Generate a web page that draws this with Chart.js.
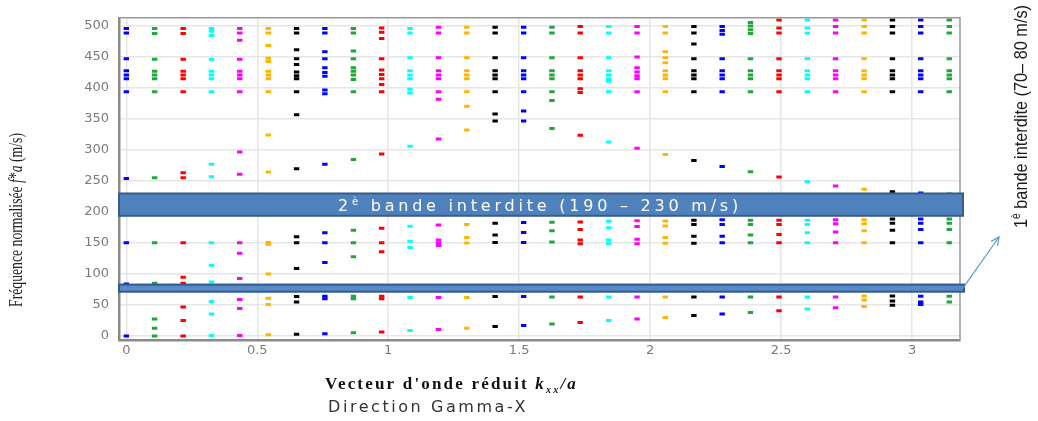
<!DOCTYPE html>
<html><head><meta charset="utf-8">
<script src="https://cdn.jsdelivr.net/npm/chart.js@4.4.1/dist/chart.umd.min.js"></script>
<style>html,body{margin:0;padding:0;background:#fff;overflow:hidden}#wrap{position:relative;width:1038px;height:421px}</style>
</head><body><div id="wrap"><canvas id="c" width="1038" height="421"></canvas></div>
<script>
// Reduced wave vector positions (Gamma -> X)
const kValues = [0, 0.108, 0.217, 0.325, 0.433, 0.542, 0.65, 0.758, 0.867, 0.975, 1.083, 1.192, 1.3, 1.408, 1.517,
  1.625, 1.733, 1.842, 1.95, 2.058, 2.167, 2.275, 2.383, 2.492, 2.6, 2.708, 2.817, 2.925, 3.033, 3.142];
const seriesColors = ['#0000ff', '#1fa83a', '#ff0000', '#00ffff', '#ff00ff', '#ffb400', '#000000'];
// Normalised frequencies for each k column (m/s)
const col00 = [496, 489, 447.5, 428, 421, 415, 394, 254, 150.6, 84, 0];
const col01 = [496, 488, 446.5, 427, 421, 415, 394, 255.5, 150.6, 85, 27.6, 12.7, 0];
const col02 = [496, 488, 446.5, 427, 421, 415, 394, 263.5, 255.5, 150.6, 95, 85, 47, 25, 0];
const col03 = [496, 491.5, 485, 446.5, 427, 421, 415, 394, 277, 257, 150.6, 114, 87, 55.7, 35.5, 1];
const col04 = [496, 489, 477, 446.5, 427, 421, 415, 394, 297, 261, 150.6, 133.6, 92.8, 59, 44.5, 1];
const col05 = [496, 489, 468.7, 448, 443, 427, 421, 415, 394, 324.5, 264.6, 151, 148, 100, 61, 51, 2];
const col06 = [496, 489, 462, 447.5, 438, 426, 420, 415, 394, 357, 270, 160, 150.6, 109, 63.6, 55, 2.7];
const col07 = [496, 489, 458.6, 447.5, 433, 425, 419, 397, 391, 277, 166.5, 150.6, 118.8, 64, 60, 3.7];
const col08 = [496, 489, 460, 447.5, 433, 427, 421, 414, 394, 284.7, 170.7, 150.6, 127.8, 64, 60, 5.3];
const col09 = [497, 490, 480, 447.5, 429, 422, 415, 405.6, 394, 293.7, 174, 150.6, 136, 64, 60, 6.4];
const col10 = [496, 489, 449, 428, 421, 415, 398, 392, 306, 177, 153, 143, 62, 9];
const col11 = [498, 489, 449, 428, 421, 415, 394, 382, 318, 179, 155, 150, 146, 62, 10.6];
const col12 = [498, 489, 449, 428, 421, 415, 394, 370.6, 332.5, 180, 159, 150, 62, 12.7];
const col13 = [498, 489, 449, 428, 421, 415, 394, 358.4, 347, 182, 163, 151, 63.6, 15.4];
const col14 = [498, 489, 449, 428, 421, 415, 394, 363, 347, 183, 167, 151, 63.6, 17];
const col15 = [498, 489, 449, 428, 421, 415, 394, 380, 335, 183.5, 169.7, 151.6, 63, 19.6];
const col16 = [499.5, 489, 449, 428, 421, 415, 399, 393, 324, 184, 172, 155, 149, 63, 22];
const col17 = [499.5, 489, 449, 428, 421, 415, 411, 394, 313, 185, 174.5, 155, 149, 63, 25];
const col18 = [499.5, 489, 450, 433, 426, 420, 415, 394, 302.8, 186, 176.6, 156, 149, 63, 27.6];
const col19 = [499.5, 489, 458.6, 449, 441, 428, 421, 415, 394, 292.7, 185.6, 177.6, 159, 149.5, 63, 30];
const col20 = [499.5, 489, 471, 447.5, 428, 421, 415, 394, 283, 186.6, 180, 161, 149.5, 63, 33];
const col21 = [499.5, 493, 487, 447.5, 428, 421, 415, 394, 273.6, 187.7, 180, 161, 150.6, 63, 35.5];
const col22 = [506, 500, 494, 488, 447.5, 428, 421, 415, 394, 265, 186.6, 180, 162.8, 150.6, 63, 38];
const col23 = [510, 497, 489, 447.5, 428, 421, 415, 394, 256.6, 186.6, 180, 164, 150.6, 63, 40.8];
const col24 = [510, 497, 489, 447.5, 428, 421, 415, 394, 249, 186.6, 180, 166.5, 150.6, 63, 43.5];
const col25 = [510, 499.5, 489, 447.5, 428, 421, 415, 394, 242, 187.7, 181, 168, 150.6, 63, 45.6];
const col26 = [510, 499.5, 489, 447.5, 428, 421, 415, 394, 237, 187.7, 181, 169.7, 150.6, 64.7, 58, 47.7];
const col27 = [510, 499.5, 489, 447.5, 428, 421, 415, 394, 232.8, 188.8, 182, 170.7, 150.6, 64.7, 56.7, 49.8];
const col28 = [510, 499.5, 489, 447.5, 428, 421, 415, 394, 230.6, 188.8, 182, 172, 150.6, 64, 55, 51];
const col29 = [510, 499.5, 489, 447.5, 428, 421, 415, 394, 229, 188.8, 182, 172, 150.6, 64, 55];
const columns = [col00, col01, col02, col03, col04, col05, col06, col07, col08, col09, col10, col11, col12, col13, col14,
  col15, col16, col17, col18, col19, col20, col21, col22, col23, col24, col25, col26, col27, col28, col29];
const xTicks = [0, 0.5, 1, 1.5, 2, 2.5, 3];
const yTicks = [0, 50, 100, 150, 200, 250, 300, 350, 400, 450, 500];
const gap1 = [71.5, 83];   // 1st band gap (drawn band)
const gap2 = [194, 230];   // 2nd band gap (drawn band)

const datasets = columns.map((col, i) => ({
  data: col.map(v => ({ x: kValues[i], y: v })),
  pointStyle: 'line',
  pointRadius: 2.7,
  pointBorderWidth: 3,
  pointBorderColor: seriesColors[i % 7],
  pointBackgroundColor: seriesColors[i % 7],
  showLine: false
}));

function drawSegs(ctx, segs, x, y, target, mode) {
  ctx.save();
  let nat = 0, n = 0;
  for (const s of segs) { ctx.font = s.f; nat += ctx.measureText(s.t).width; n += s.t.length; }
  ctx.translate(x, y);
  let sp = 0;
  if (mode === 'space' && ('letterSpacing' in ctx)) sp = (target - nat) / n;
  else ctx.scale(target / nat, 1);
  let cx = 0;
  for (const s of segs) {
    ctx.font = s.f;
    const w = ctx.measureText(s.t).width;
    if (sp) ctx.letterSpacing = sp + 'px';
    ctx.fillText(s.t, cx, s.dy || 0);
    if (sp) ctx.letterSpacing = '0px';
    cx += w + sp * s.t.length;
  }
  ctx.restore();
}

const decor = {
  id: 'decor',
  afterDatasetsDraw(chart) {
    const { ctx, chartArea: a, scales: { y } } = chart;
    ctx.save();
    // frame top/right
    ctx.strokeStyle = '#9a9a9a'; ctx.lineWidth = 1.5;
    ctx.beginPath(); ctx.moveTo(a.left, a.top); ctx.lineTo(a.right, a.top); ctx.lineTo(a.right, a.bottom); ctx.stroke();
    // second gap band
    let t = y.getPixelForValue(gap2[1]), b = y.getPixelForValue(gap2[0]);
    ctx.fillStyle = '#4f81bd'; ctx.fillRect(a.left, t, a.right + 3 - a.left, b - t);
    ctx.strokeStyle = '#385d8a'; ctx.lineWidth = 2; ctx.strokeRect(a.left, t, a.right + 3 - a.left, b - t);
    ctx.fillStyle = '#ffffff'; ctx.textBaseline = 'alphabetic';
    drawSegs(ctx, [
      { t: '2', f: '16px "DejaVu Sans"' },
      { t: 'è', f: '10px "DejaVu Sans"', dy: -6 },
      { t: ' bande interdite (190 \u2013 230 m/s)', f: '16px "DejaVu Sans"' }
    ], 338, (t + b) / 2 + 6, 404, 'space');
    // first gap band
    t = y.getPixelForValue(gap1[1]); b = y.getPixelForValue(gap1[0]);
    ctx.fillStyle = '#5a8ac6'; ctx.fillRect(a.left, t, a.right + 4 - a.left, b - t);
    ctx.strokeStyle = '#2f5a8e'; ctx.lineWidth = 2; ctx.strokeRect(a.left, t, a.right + 4 - a.left, b - t);
    // arrow
    const x0 = a.right + 3, y0 = (t + b) / 2, x1 = 999, y1 = 237;
    ctx.strokeStyle = '#5b9bd5'; ctx.lineWidth = 1.2;
    ctx.beginPath(); ctx.moveTo(x0, y0); ctx.lineTo(x1, y1); ctx.stroke();
    const ang = Math.atan2(y1 - y0, x1 - x0), hl = 9;
    ctx.beginPath();
    ctx.moveTo(x1 - hl * Math.cos(ang - 0.45), y1 - hl * Math.sin(ang - 0.45));
    ctx.lineTo(x1, y1);
    ctx.lineTo(x1 - hl * Math.cos(ang + 0.45), y1 - hl * Math.sin(ang + 0.45));
    ctx.stroke();
    ctx.restore();
  },
  afterDraw(chart) {
    const ctx = chart.ctx;
    ctx.save();
    ctx.textBaseline = 'alphabetic';
    // right rotated label
    ctx.fillStyle = '#1a1a1a';
    ctx.save(); ctx.translate(1027, 228); ctx.rotate(-Math.PI / 2);
    drawSegs(ctx, [
      { t: '1', f: '19px "Liberation Sans"' },
      { t: 'è', f: '12px "Liberation Sans"', dy: -7 },
      { t: ' bande interdite (70\u2013 80 m/s)', f: '19px "Liberation Sans"' }
    ], 0, 0, 223, 'scale');
    ctx.restore();
    // y-axis title
    ctx.fillStyle = '#222';
    ctx.save(); ctx.translate(22, 307); ctx.rotate(-Math.PI / 2);
    drawSegs(ctx, [
      { t: 'Fréquence normalisée ', f: '18px "Liberation Serif"' },
      { t: 'f', f: 'italic 18px "Liberation Serif"' },
      { t: '*', f: '18px "Liberation Serif"' },
      { t: 'a', f: 'italic 18px "Liberation Serif"' },
      { t: ' (m/s)', f: '18px "Liberation Serif"' }
    ], 0, 0, 174, 'scale');
    ctx.restore();
    // x-axis title
    ctx.fillStyle = '#111';
    drawSegs(ctx, [
      { t: "Vecteur d'onde réduit ", f: 'bold 17px "Liberation Serif"' },
      { t: 'k', f: 'italic bold 17px "Liberation Serif"' },
      { t: 'xx', f: 'italic bold 10px "Liberation Serif"', dy: 4 },
      { t: '/a', f: 'italic bold 17px "Liberation Serif"' }
    ], 325, 389, 253, 'space');
    ctx.fillStyle = '#333';
    drawSegs(ctx, [{ t: 'Direction Gamma-X', f: '16px "DejaVu Sans"' }], 328, 412, 200, 'space');
    ctx.restore();
  }
};

new Chart(document.getElementById('c'), {
  type: 'scatter',
  data: { datasets },
  options: {
    responsive: false,
    animation: false,
    events: [],
    layout: { padding: { top: 13, right: 78, bottom: 0, left: 0 } },
    plugins: { legend: { display: false }, tooltip: { enabled: false } },
    scales: {
      x: {
        type: 'linear', min: -0.028, max: 3.183,
        afterBuildTicks: s => { s.ticks = xTicks.map(v => ({ value: v })); },
        afterFit: s => { s.height = 81; },
        ticks: { color: '#7a7a7a', font: { family: 'DejaVu Sans', size: 13 }, padding: 3, maxRotation: 0,
          callback: v => String(v) },
        grid: { color: '#e6e6e6', lineWidth: 1.5, drawTicks: false },
        border: { color: '#8a8a8a', width: 2.5 }
      },
      y: {
        type: 'linear', min: -6.4, max: 513.4,
        afterBuildTicks: s => { s.ticks = yTicks.map(v => ({ value: v })); },
        afterFit: s => { s.width = 119; },
        ticks: { color: '#7a7a7a', font: { family: 'DejaVu Sans', size: 13 }, padding: 10,
          callback: v => String(v) },
        grid: { color: '#e6e6e6', lineWidth: 1.5, drawTicks: false },
        border: { color: '#8a8a8a', width: 2.5 }
      }
    }
  },
  plugins: [decor]
});
</script>
</body></html>
